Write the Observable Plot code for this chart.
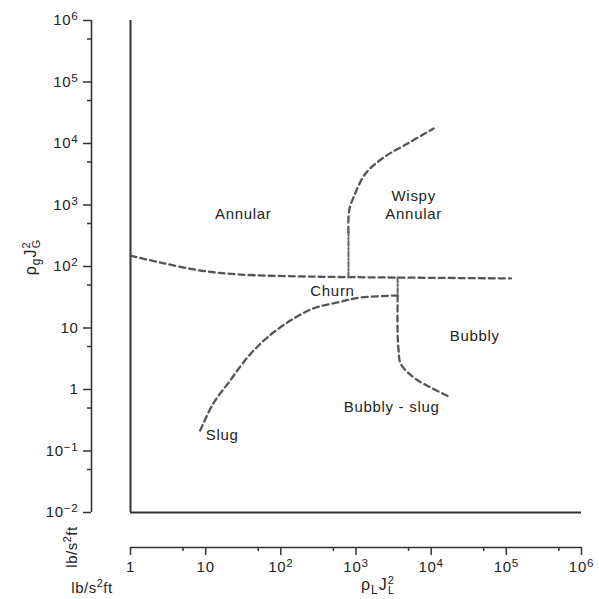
<!DOCTYPE html>
<html><head><meta charset="utf-8">
<script src="https://cdn.jsdelivr.net/npm/d3@7"></script>
<script src="https://cdn.jsdelivr.net/npm/@observablehq/plot@0.6"></script>
<style>body{margin:0;background:#fff;} svg{display:block}</style>
</head><body><div id="chart"></div>
<script>
const xTicks = [1, 10, 100, 1e3, 1e4, 1e5, 1e6];
const xTickLabels = ["1", "10", "10²", "10³", "10⁴", "10⁵", "10⁶"];
const xMinorTicks = [5, 50, 500, 5e3, 5e4, 5e5];
const yTicks = [1e-2, 1e-1, 1, 10, 100, 1e3, 1e4, 1e5, 1e6];
const yTickLabels = ["10⁻²", "10⁻¹", "1", "10", "10²", "10³", "10⁴", "10⁵", "10⁶"];
const yMinorTicks = [5e-2, 0.5, 5, 50, 500, 5e3, 5e4, 5e5];

// Regime boundaries (rho_L J_L^2, rho_g J_G^2)
const annularChurnX = [1, 2.5, 8.5, 29, 180, 1000, 1.15e5];
const annularChurnY = [150, 116, 86, 74, 69, 67, 64];
const wispyStemX = [794, 794];
const wispyStemY = [66, 357];
const wispyX = [794, 810, 926, 1339, 2327, 4860, 10800];
const wispyY = [357, 813, 1324, 3250, 5910, 10000, 17500];
const slugChurnX = [8.45, 12.6, 21.2, 35.8, 66, 134, 271, 566, 1148, 3580];
const slugChurnY = [0.215, 0.59, 1.4, 3.3, 7.0, 13.2, 20.8, 26, 31.3, 33.7];
const bubblyStemX = [3580, 3580];
const bubblyStemY = [66, 33.7];
const bubblySlugX = [3580, 3580, 3690, 3920, 5840, 9840, 17100];
const bubblySlugY = [33.7, 8, 4.3, 2.65, 1.57, 1.08, 0.77];

const regionNames = ["Annular", "Wispy\nAnnular", "Churn", "Bubbly", "Bubbly - slug", "Slug"];
const regionX = [31.6, 5850, 486, 38000, 2975, 16.6];
const regionY = [728, 1020, 40.7, 7.55, 0.53, 0.185];

function toRows(xs, ys, curve) { return xs.map((x, i) => ({x, y: ys[i], curve})); }
const dashed = [
  ...toRows(annularChurnX, annularChurnY, "a"),
  ...toRows(wispyX, wispyY, "w"),
  ...toRows(slugChurnX, slugChurnY, "s"),
  ...toRows(bubblySlugX, bubblySlugY, "b")
];
const dashDot = [
  ...toRows(wispyStemX, wispyStemY, "ws"),
  ...toRows(bubblyStemX, bubblyStemY, "bs")
];
const labels = regionNames.map((t, i) => ({t, x: regionX[i], y: regionY[i]}));

const font = "Liberation Sans, Arial, Helvetica, sans-serif";
const ink = "#333";

const chart = Plot.plot({
  width: 599, height: 599,
  marginLeft: 130, marginRight: 18, marginTop: 20, marginBottom: 87,
  style: {fontFamily: font, fontSize: "15px", background: "#fff", color: "#222"},
  x: {type: "log", domain: [1, 1e6], axis: null},
  y: {type: "log", domain: [1e-2, 1e6], axis: null},
  marks: [
    // frame lines
    Plot.ruleX([1], {y1: 1e-2, y2: 1e6, stroke: ink, strokeWidth: 2}),
    Plot.ruleY([1e-2], {x1: 1, x2: 1e6, stroke: ink, strokeWidth: 2}),
    // offset y axis
    Plot.ruleX([1], {y1: 1e-2, y2: 1e6, dx: -39, stroke: ink, strokeWidth: 1.6}),
    Plot.axisY(yTicks, {anchor: "left", dx: -39, tickSize: 8, tickPadding: 5, fontSize: 15, stroke: ink, strokeWidth: 1.5, color: "#222",
      tickFormat: d => yTickLabels[yTicks.indexOf(d)], label: null}),
    Plot.axisY(yMinorTicks, {anchor: "left", dx: -39, tickSize: 4, tickFormat: () => "", stroke: ink, strokeWidth: 1.5, label: null}),
    // offset x axis
    Plot.ruleY([1e-2], {x1: 1, x2: 1e6, dy: 35, stroke: ink, strokeWidth: 1.6}),
    Plot.axisX(xTicks, {anchor: "bottom", dy: 35, tickSize: 8, tickPadding: 6, fontSize: 15, stroke: ink, strokeWidth: 1.5, color: "#222",
      tickFormat: d => xTickLabels[xTicks.indexOf(d)], label: null}),
    Plot.axisX(xMinorTicks, {anchor: "bottom", dy: 35, tickSize: 4, tickFormat: () => "", stroke: ink, strokeWidth: 1.5, label: null}),
    // boundaries
    Plot.line(dashed, {x: "x", y: "y", z: "curve", curve: "catmull-rom", stroke: "#555", strokeWidth: 2.3, strokeDasharray: "6,4"}),
    Plot.line(dashDot, {x: "x", y: "y", z: "curve", stroke: "#666", strokeWidth: 2, strokeDasharray: "5,2,1.5,2"}),
    // region labels
    Plot.text(labels, {x: "x", y: "y", text: "t", fontSize: 15, fill: "#222", lineHeight: 1.2})
  ]
});

document.getElementById("chart").appendChild(chart);
const svg = d3.select(chart);

// letter spacing to mimic the wide lettering of the original
svg.selectAll("text").attr("letter-spacing", "0.7px");

// turn unicode superscripts in tick labels into raised tspans
const supMap = {"⁰":"0","¹":"1","²":"2","³":"3","⁴":"4","⁵":"5","⁶":"6","⁷":"7","⁸":"8","⁹":"9","⁻":"−"};
svg.selectAll("text").each(function() {
  if (this.children.length) return;
  const s = this.textContent;
  const m = s.match(/^(10)([⁻⁰¹²³⁴⁵⁶⁷⁸⁹]+)$/);
  if (!m) return;
  this.textContent = "";
  const t = d3.select(this);
  t.append("tspan").text(m[1]);
  t.append("tspan").attr("dy", "-0.45em").attr("font-size", "0.78em")
    .text([...m[2]].map(c => supMap[c]).join(""));
});

function title(sel, main1, sub1, main2, sup, sub2) {
  sel.append("tspan").text(main1);
  sel.append("tspan").attr("font-size", 12).attr("dy", 4).text(sub1);
  sel.append("tspan").attr("dy", -4).text(main2);
  sel.append("tspan").attr("font-size", 11).attr("dy", -6).text(sup);
  sel.append("tspan").attr("font-size", 11).attr("dx", -7).attr("dy", 10).text(sub2);
}

// y axis title
const yt = svg.append("text").attr("transform", "translate(36,257) rotate(-90)")
  .attr("text-anchor", "middle").attr("font-family", font).attr("font-size", 16).attr("fill", "#222").attr("letter-spacing", "1px");
title(yt, "ρ", "g", "J", "2", "G");

// x axis title
const xt = svg.append("text").attr("x", 378).attr("y", 590)
  .attr("text-anchor", "middle").attr("font-family", font).attr("font-size", 16).attr("fill", "#222").attr("letter-spacing", "1px");
title(xt, "ρ", "L", "J", "2", "L");

// unit labels
function unit(sel) {
  sel.append("tspan").text("lb/s");
  sel.append("tspan").attr("font-size", 11).attr("dy", -6).text("2");
  sel.append("tspan").attr("dy", 6).text("ft");
}
unit(svg.append("text").attr("x", 92).attr("y", 593).attr("font-family", font).attr("font-size", 15)
  .attr("fill", "#222").attr("letter-spacing", "0.5px"));
unit(svg.append("text").attr("transform", "translate(77,547) rotate(-90)").attr("text-anchor", "middle")
  .attr("font-family", font).attr("font-size", 15).attr("fill", "#222").attr("letter-spacing", "0.5px"));
</script>
</body></html>
